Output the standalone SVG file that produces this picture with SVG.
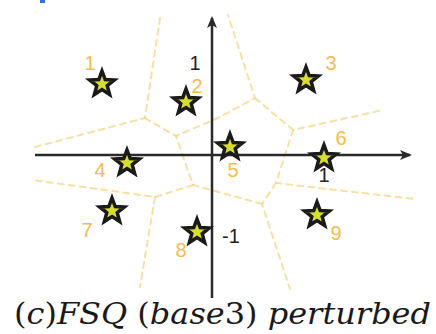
<svg xmlns="http://www.w3.org/2000/svg" width="436" height="334" viewBox="0 0 436 334">
<style>
.bd{fill:none;stroke:#f2cf72;stroke-opacity:0.65;stroke-width:2;stroke-dasharray:6 5;stroke-linecap:round}
.ax{stroke:#2a2a2a;stroke-width:2.5;fill:none}
.lo{font-family:"Liberation Sans",Arial,sans-serif;font-size:20px;fill:#f5bc4c;text-anchor:middle}
.lk{font-family:"Liberation Sans",Arial,sans-serif;font-size:20px;fill:#222;text-anchor:middle}
.st{fill:#d8de30;stroke:#1a1a1a;stroke-width:3.5;stroke-linejoin:miter}
</style>
<defs>
<path id="star" d="M0,-13 L3.23,-4.45 L12.36,-4.02 L5.23,1.7 L7.64,10.52 L0,5.5 L-7.64,10.52 L-5.23,1.7 L-12.36,-4.02 L-3.23,-4.45 Z"/>
<marker id="ah" markerWidth="12" markerHeight="12" refX="10" refY="5" orient="auto" markerUnits="userSpaceOnUse" viewBox="0 0 12 10">
<path d="M0,0 L12,5 L0,10 L3,5 Z" fill="#2a2a2a"/>
</marker>
</defs>
<rect x="40" y="0" width="5" height="3" fill="#3a6fd8"/>
<g id="connectors">
<g id="boundaries">
<polyline class="bd" points="160,18 145,118 35,147"/>
<polyline class="bd" points="145,118 176,136 218,118 255,98 228,15"/>
<polyline class="bd" points="255,98 293,130 383,110"/>
<polyline class="bd" points="293,130 276,183 415,199"/>
<polyline class="bd" points="276,183 262,204 290,289"/>
<polyline class="bd" points="262,204 193,185 176,136"/>
<polyline class="bd" points="193,185 155,197 33,180"/>
<polyline class="bd" points="155,197 140,287"/>
</g>
<g id="axes">
<line class="ax" x1="35" y1="155" x2="410" y2="155" marker-end="url(#ah)"/>
<line class="ax" x1="212" y1="298" x2="212" y2="18" marker-end="url(#ah)"/>
<text class="lk" x="195" y="70">1</text>
<text class="lk" x="324" y="182">1</text>
<text class="lk" x="231" y="243">-1</text>
</g>
</g>
<g id="n1"><use href="#star" class="st" x="102" y="84"/><text class="lo" x="90" y="70">1</text></g>
<g id="n2"><use href="#star" class="st" x="186" y="102"/><text class="lo" x="197" y="93">2</text></g>
<g id="n3"><use href="#star" class="st" x="306" y="80"/><text class="lo" x="331" y="70">3</text></g>
<g id="n4"><use href="#star" class="st" x="127" y="163"/><text class="lo" x="100" y="177">4</text></g>
<g id="n5"><use href="#star" class="st" x="230" y="147"/><text class="lo" x="233" y="177">5</text></g>
<g id="n6"><use href="#star" class="st" x="324" y="158"/><text class="lo" x="341" y="145">6</text></g>
<g id="n7"><use href="#star" class="st" x="112" y="211"/><text class="lo" x="87" y="237">7</text></g>
<g id="n8"><use href="#star" class="st" x="197" y="232"/><text class="lo" x="181" y="257">8</text></g>
<g id="n9"><use href="#star" class="st" x="317" y="215"/><text class="lo" x="336" y="240">9</text></g>
<text x="14" y="324" font-family="'DejaVu Serif',serif" font-size="30" font-style="italic" fill="#1a1a1a" textLength="417" lengthAdjust="spacingAndGlyphs"><tspan font-style="normal">(</tspan>c<tspan font-style="normal">)</tspan>FSQ <tspan font-style="normal">(</tspan>base<tspan font-style="normal">3)</tspan> perturbed</text>
</svg>
